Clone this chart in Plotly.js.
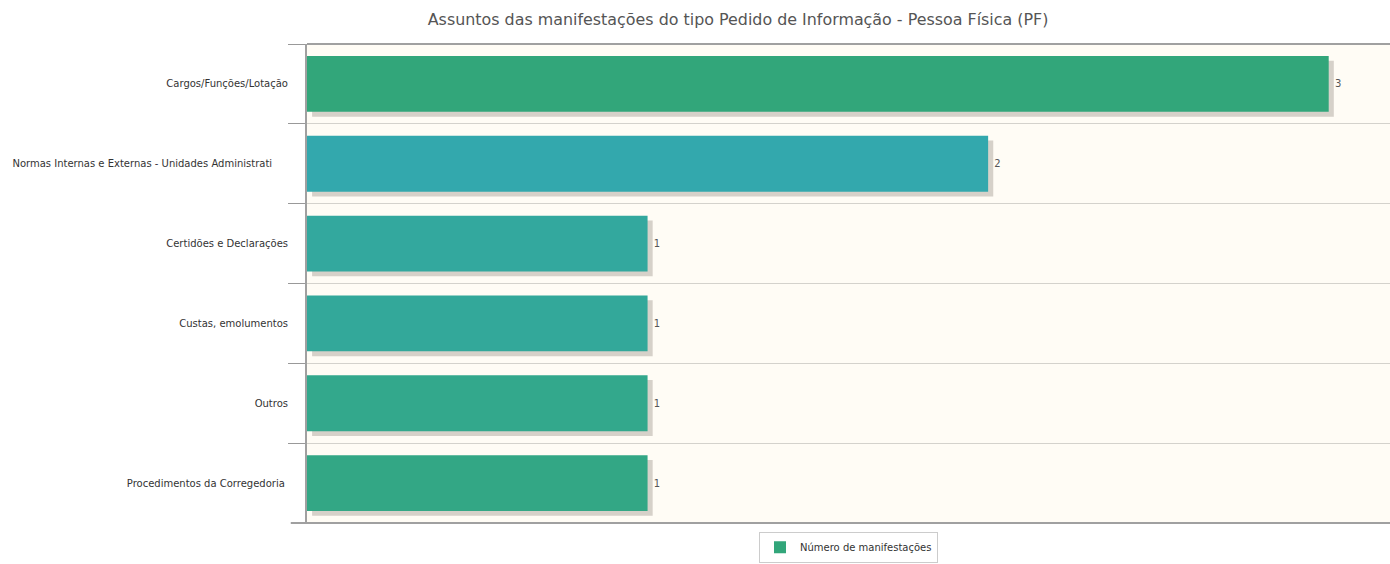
<!DOCTYPE html>
<html>
<head>
<meta charset="utf-8">
<script src="https://cdn.plot.ly/plotly-3.0.1.min.js"></script>
<style>html,body{margin:0;padding:0;background:#fff;}#chart{width:1390px;height:564px;}</style>
</head>
<body>
<div id="chart"></div>
<script>
var categories = [
  "Cargos/Funções/Lotação",
  "Normas Internas e Externas - Unidades Administrati \u00a0\u00a0\u00a0\u00a0",
  "Certidões e Declarações",
  "Custas, emolumentos",
  "Outros",
  "Procedimentos da Corregedoria "
];
var values = [3, 2, 1, 1, 1, 1];
var barColors = ["#32a67a", "#33a8ad", "#33a89e", "#33a89a", "#33a88c", "#33a785"];
var seriesName = "Número de manifestações";
var chartTitle = "Assuntos das manifestações do tipo Pedido de Informação - Pessoa Física (PF)";

var font = "DejaVu Sans, Open Sans, sans-serif";

var shadow = {
  type: "bar", orientation: "h",
  x: values, y: categories,
  base: 0.015,
  width: 0.7, offset: -0.35 + 0.06,
  marker: {color: "rgba(90,80,70,0.25)"},
  hoverinfo: "skip", showlegend: false
};
var bars = {
  type: "bar", orientation: "h",
  x: values, y: categories,
  name: seriesName,
  width: 0.7, offset: -0.35,
  marker: {color: barColors},
  text: values.map(function (v) { return "\u00a0" + v; }), textposition: "outside",
  textfont: {family: font, size: 10, color: "#555"},
  cliponaxis: false
};

var layout = {
  width: 1390, height: 564,
  margin: {l: 307, r: 0, t: 44, b: 41, autoexpand: false},
  paper_bgcolor: "#ffffff",
  plot_bgcolor: "#fffcf5",
  barmode: "overlay",
  title: {text: chartTitle, x: 0.531, xanchor: "center", y: 0.966, yanchor: "middle",
          font: {family: font, size: 15.9, color: "#555"}},
  xaxis: {range: [0, 3.18], showticklabels: false, showgrid: false, zeroline: false,
          showline: false, ticks: "", fixedrange: true},
  yaxis: {autorange: "reversed", type: "category", tickson: "boundaries",
          ticks: "outside", ticklen: 17, tickcolor: "#999", tickwidth: 1,
          showgrid: true, gridcolor: "#d4d2cc", gridwidth: 1,
          showline: true, linecolor: "#a0a0a0", linewidth: 2, mirror: false,
          tickfont: {family: font, size: 10, color: "#333"}, ticklabelstandoff: 15},
  shapes: [
    {type: "line", xref: "paper", yref: "paper", x0: 0, x1: 1, y0: 1, y1: 1,
     line: {color: "#a0a0a0", width: 2}},
    {type: "line", xref: "paper", yref: "paper", x0: -0.015, x1: 1, y0: 0, y1: 0,
     line: {color: "#a0a0a0", width: 2}}
  ],
  legend: {orientation: "h", x: 0.5, xanchor: "center", yref: "container", y: 0.002, yanchor: "bottom",
           bordercolor: "#cccccc", borderwidth: 1, bgcolor: "#ffffff",
           itemwidth: 30, tracegroupgap: 0,
           font: {family: font, size: 10, color: "#333"}},
  showlegend: true
};

Plotly.newPlot("chart", [shadow, bars], layout, {displayModeBar: false, staticPlot: true});
</script>
</body>
</html>
